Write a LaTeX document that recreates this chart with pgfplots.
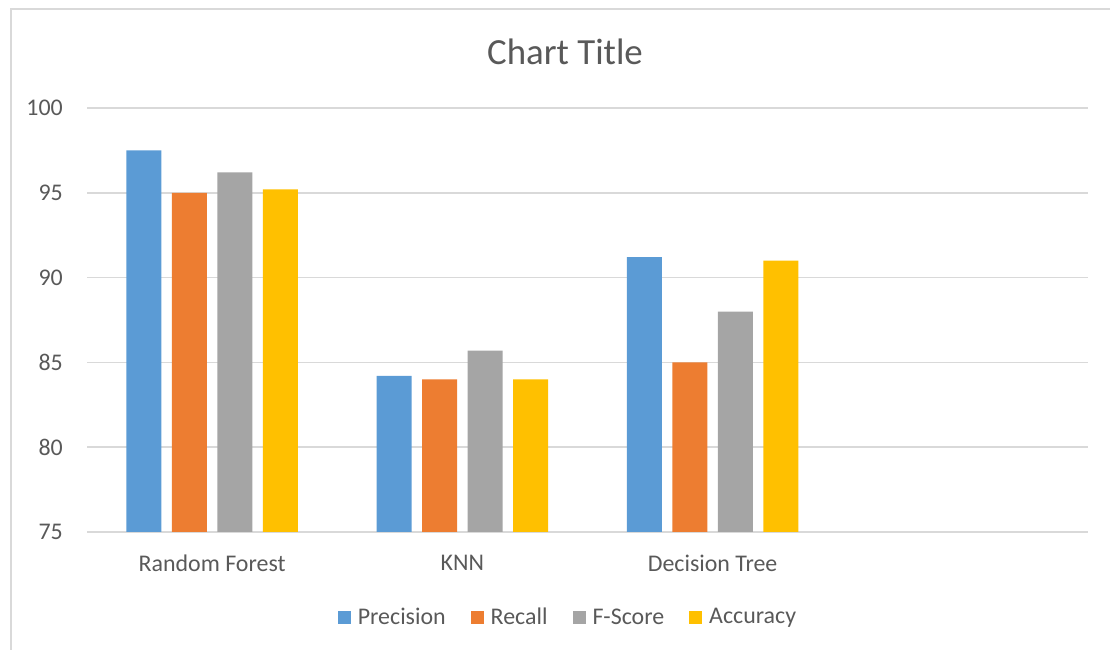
\documentclass[border=0pt]{standalone}
\usepackage{pgfplots}
\pgfplotsset{compat=1.18}
\usepackage{fontspec}
\setmainfont{Carlito}
\definecolor{cblue}{HTML}{5B9BD5}
\definecolor{corange}{HTML}{ED7D31}
\definecolor{cgray}{HTML}{A5A5A5}
\definecolor{cyellow}{HTML}{FFC000}
\definecolor{txt}{HTML}{595959}
\definecolor{gridc}{HTML}{D9D9D9}
\begin{document}
\begin{tikzpicture}[x=1bp,y=1bp]
\useasboundingbox (0,0) rectangle (1110,650);
\draw[gridc, line width=1.5bp] (11,-10) -- (11,641) -- (1120,641);
\node[txt, font=\fontsize{37}{44}\selectfont, anchor=center] at (565,598) {Chart Title};
\begin{axis}[
  at={(87bp,118bp)}, anchor=south west,
  scale only axis, width=1001bp, height=424bp,
  ymin=75, ymax=100, ytick={75,80,...,100},
  xmin=-0.5, xmax=3.5,
  xtick={0,1,2}, xticklabels={Random Forest,KNN,Decision Tree},
  ybar, bar width=35bp, ybar=10.5bp,
  axis line style={draw=none},
  major tick length=0pt,
  ymajorgrids=true, xmajorgrids=false, grid style={color=gridc, line width=1.5bp},
  tick label style={txt, font=\fontsize{24}{29}\selectfont, inner sep=0pt},
  yticklabel style={xshift=-24bp},
  xticklabel style={yshift=-23bp},
  /pgf/number format/assume math mode=true,
  legend style={at={(0.4795,-0.2005)}, anchor=center, draw=none, fill=none,
    legend columns=-1, font=\fontsize{24}{29}\selectfont, text=txt,
    /tikz/every even column/.append style={column sep=25bp},
    /tikz/every odd column/.append style={column sep=7bp},
    nodes={inner sep=0pt}},
  legend image code/.code={\fill[#1] (0bp,-6.5bp) rectangle (13bp,6.5bp);},
]
\addplot[fill=cblue, draw=none] coordinates {(0,97.5) (1,84.2) (2,91.2)};
\addplot[fill=corange, draw=none] coordinates {(0,95.0) (1,84.0) (2,85.0)};
\addplot[fill=cgray, draw=none] coordinates {(0,96.2) (1,85.7) (2,88.0)};
\addplot[fill=cyellow, draw=none] coordinates {(0,95.2) (1,84.0) (2,91.0)};
\legend{Precision,Recall,F-Score,Accuracy}
\end{axis}
\end{tikzpicture}
\end{document}
